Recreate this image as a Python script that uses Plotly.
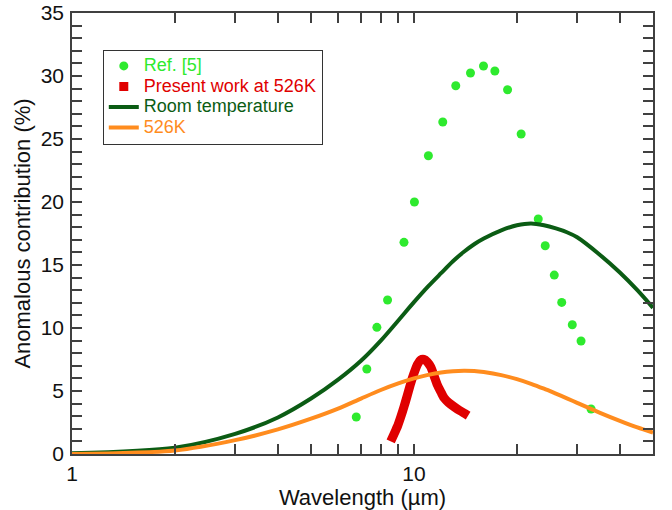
import plotly.graph_objects as go

# Ref. [5] data points
ref_x = [6.78, 7.28, 7.79, 8.37, 9.35, 10.03, 11.02, 12.14, 13.25, 14.63, 15.97, 17.24,
         18.78, 20.58, 23.09, 24.2, 25.72, 27.04, 29.04, 30.8, 32.95]
ref_y = [2.94, 6.75, 10.05, 12.22, 16.8, 20.0, 23.67, 26.35, 29.23, 30.24, 30.79, 30.4,
         28.91, 25.4, 18.65, 16.53, 14.2, 12.03, 10.26, 8.97, 3.57]

# Present work at 526K
pw_x = [8.55, 8.75, 8.95, 9.15, 9.35, 9.55, 9.78, 10.0, 10.23, 10.45, 10.7, 10.95,
        11.2, 11.45, 11.7, 12.0, 12.25, 12.6, 13.1, 13.6, 14.1, 14.4]
pw_y = [1.0, 1.6, 2.2, 2.95, 3.75, 4.6, 5.6, 6.4, 7.1, 7.45, 7.5, 7.3,
        6.9, 6.2, 5.5, 4.9, 4.45, 4.1, 3.75, 3.45, 3.2, 3.05]

# Room temperature curve
rt_x = [1, 2, 3, 4, 5, 6, 7, 8, 9, 10, 11, 12, 13, 14, 15, 16, 18, 20, 22, 24, 26, 28,
        30, 35, 40, 45, 50]
rt_y = [0.05, 0.5, 1.6, 2.9, 4.4, 5.9, 7.4, 9.0, 10.6, 12.05, 13.3, 14.35, 15.3, 16.05,
        16.65, 17.1, 17.75, 18.15, 18.3, 18.15, 17.9, 17.6, 17.2, 15.8, 14.4, 13.0, 11.6]

# 526K curve
hk_x = [1, 2, 3, 4, 5, 6, 7, 8, 9, 10, 11, 12, 13, 14, 15, 16, 18, 20, 22, 24, 26, 28,
        30, 35, 40, 45, 50]
hk_y = [0.0, 0.28, 1.1, 1.95, 2.8, 3.6, 4.4, 5.08, 5.6, 6.0, 6.28, 6.47, 6.57, 6.6,
        6.58, 6.5, 6.26, 5.94, 5.57, 5.18, 4.79, 4.42, 4.06, 3.27, 2.63, 2.11, 1.7]

x_tickvals = [1, 2, 3, 4, 5, 6, 7, 8, 9, 10, 20, 30, 40]
x_ticktext = ["1", "", "", "", "", "", "", "", "", "10", "", "", ""]

C_REF = "#2eea2e"
C_PW = "#e00000"
C_RT = "#0b5c14"
C_HK = "#ff8c1e"
AXC = "#404040"
TXT = "#111111"
FONT = "Liberation Sans, Arial, sans-serif"


def lg(text, color):
    return f"<span style='color:{color};font-size:18px'>{text}</span>"


fig = go.Figure()
fig.add_trace(go.Scatter(x=ref_x, y=ref_y, mode="markers",
                         marker=dict(color=C_REF, size=9, symbol="circle"),
                         name=lg("Ref. [5]", C_REF)))
fig.add_trace(go.Scatter(x=pw_x, y=pw_y, mode="lines",
                         line=dict(color=C_PW, width=9, shape="spline", smoothing=0.6),
                         showlegend=False, legendgroup="pw"))
# legend entry for the present-work series (square symbol)
fig.add_trace(go.Scatter(x=[None], y=[None], mode="markers", legendgroup="pw",
                         marker=dict(color=C_PW, size=9, symbol="square"),
                         name=lg("Present work at 526K", C_PW)))
fig.add_trace(go.Scatter(x=rt_x, y=rt_y, mode="lines",
                         line=dict(color=C_RT, width=4, shape="spline", smoothing=0.8),
                         name=lg("Room temperature", C_RT)))
fig.add_trace(go.Scatter(x=hk_x, y=hk_y, mode="lines",
                         line=dict(color=C_HK, width=4, shape="spline", smoothing=0.8),
                         name=lg("526K", C_HK)))

fig.update_layout(
    width=672, height=510,
    margin=dict(l=72, r=19, t=13, b=56),
    paper_bgcolor="white", plot_bgcolor="white",
    font=dict(family=FONT, color=TXT),
    legend=dict(x=0.053, y=0.917, xanchor="left", yanchor="top",
                bordercolor="#333333", borderwidth=1, bgcolor="white",
                font=dict(size=13.5, family=FONT), tracegroupgap=0),
    showlegend=True,
)
fig.update_xaxes(
    type="log", range=[0, 1.69897], automargin=False,
    tickvals=x_tickvals, ticktext=x_ticktext,
    ticks="inside", ticklen=10, tickwidth=1.5, tickcolor=AXC,
    showline=True, linecolor=AXC, linewidth=1.5, mirror="ticks",
    showgrid=False, zeroline=False,
    tickfont=dict(size=21, family=FONT, color=TXT),
    title=dict(text="Wavelength (µm)", font=dict(size=22, family=FONT, color=TXT),
               standoff=0),
)
fig.update_yaxes(
    range=[0, 35], tick0=0, dtick=5, automargin=False,
    ticks="inside", ticklen=10, tickwidth=1.5, tickcolor=AXC,
    minor=dict(dtick=1, ticks="inside", ticklen=10, tickwidth=1.5, tickcolor=AXC),
    showline=True, linecolor=AXC, linewidth=1.5, mirror="ticks",
    showgrid=False, zeroline=False, ticklabelstandoff=2, ticklabeloverflow="allow",
    tickfont=dict(size=21, family=FONT, color=TXT),
    title=dict(text="Anomalous contribution (%)", font=dict(size=22, family=FONT, color=TXT),
               standoff=4),
)

# remove the default 8px page margin so the figure fills the window exactly
fig.write_html("out.html",
               config={"displayModeBar": False},
               post_script="document.body.style.margin='0';document.body.style.overflow='hidden';")
